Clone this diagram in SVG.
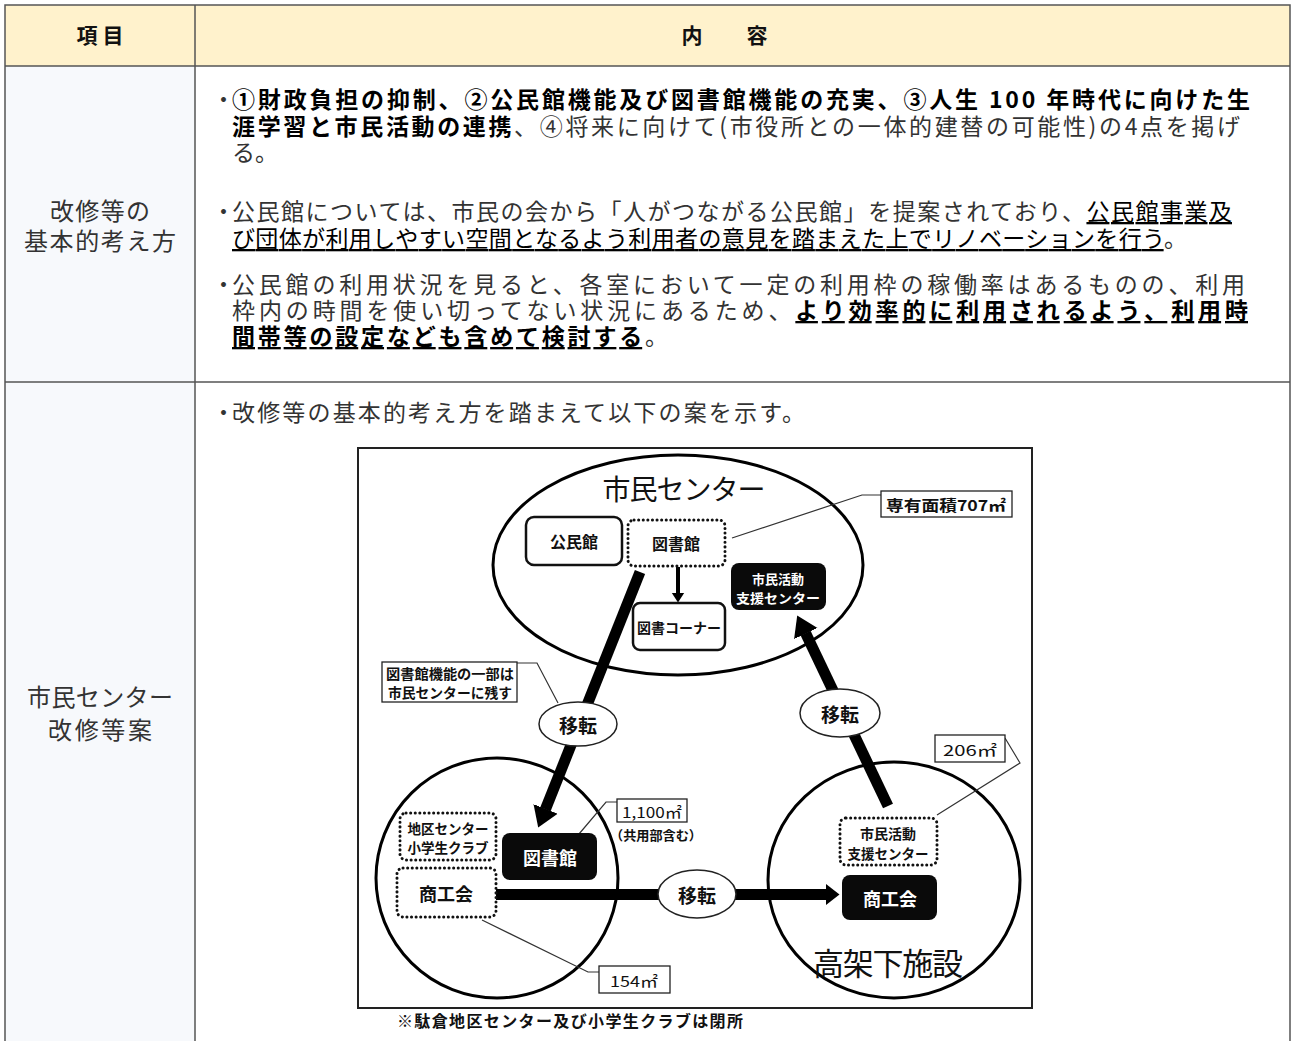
<svg xmlns="http://www.w3.org/2000/svg" width="1296" height="1041" viewBox="0 0 1296 1041">
<style>
.t{font-family:"Noto Sans CJK JP","Noto Sans",sans-serif;}
.body{font-size:23px;fill:#333;}
.b{font-weight:bold;fill:#000;}
.u{text-decoration:underline;}
.lab{font-size:24px;fill:#333;text-anchor:middle;}
.hd{font-size:21px;font-weight:bold;fill:#111;text-anchor:middle;}
.d{font-family:"Noto Sans CJK JP","Noto Sans",sans-serif;text-anchor:middle;dominant-baseline:central;fill:#111;}
.w{fill:#fff;font-weight:bold;}
.bx{fill:#fff;stroke:#222;stroke-width:1.3;}
.dot{fill:#fff;stroke:#111;stroke-width:3;stroke-dasharray:0.1 4.5;stroke-linecap:round;}
.blk{fill:#0a0a0a;stroke:none;}
.cl{fill:none;stroke:#333;stroke-width:1.2;}
.circ{fill:none;stroke:#000;stroke-width:3;}
.ev{fill:#fff;stroke:#222;stroke-width:1.5;}
.grid{stroke:#555;stroke-width:1.5;fill:none;}
</style>
<defs>
<marker id="ah" markerUnits="userSpaceOnUse" markerWidth="22" markerHeight="28" viewBox="0 -14 22 28" refX="0.5" refY="0" orient="auto"><path d="M0,-13 L20,0 L0,13 Z" fill="#000"/></marker>
<marker id="ah2" markerUnits="userSpaceOnUse" markerWidth="16" markerHeight="24" viewBox="0 -12 16 24" refX="0.5" refY="0" orient="auto"><path d="M0,-11 L14,0 L0,11 Z" fill="#000"/></marker>
<marker id="ahs" markerUnits="userSpaceOnUse" markerWidth="12" markerHeight="14" viewBox="0 -7 12 14" refX="0.5" refY="0" orient="auto"><path d="M0,-6.5 L10,0 L0,6.5 Z" fill="#000"/></marker>
</defs>
<rect width="1296" height="1041" fill="#fff"/>

<g id="table">
<rect x="5" y="5" width="1285" height="61" fill="#fff2cc"/>
<rect x="5" y="66" width="190" height="980" fill="#f7f9fc"/>
<rect x="5" y="5" width="1285" height="1041" class="grid"/>
<line x1="5" y1="66" x2="1290" y2="66" class="grid"/>
<line x1="5" y1="382" x2="1290" y2="382" class="grid"/>
<line x1="195" y1="5" x2="195" y2="1046" class="grid"/>
<text class="t hd" x="100" y="43" textLength="47" lengthAdjust="spacing">項目</text>
<text class="t hd" x="692" y="43">内</text>
<text class="t hd" x="757" y="43">容</text>
</g>

<g id="row1-label">
<text class="t lab" x="100" y="220" textLength="100" lengthAdjust="spacing">改修等の</text>
<text class="t lab" x="100" y="250" textLength="152" lengthAdjust="spacing">基本的考え方</text>
</g>

<g id="row1-content">
<text class="t body" x="212" y="108">・</text>
<text class="t body" x="232" y="108" textLength="1018" lengthAdjust="spacing"><tspan class="b">①財政負担の抑制、②公民館機能及び図書館機能の充実、③人生 100 年時代に向けた生</tspan></text>
<text class="t body" x="232" y="135" textLength="1008" lengthAdjust="spacing"><tspan class="b">涯学習と市民活動の連携</tspan>、④将来に向けて(市役所との一体的建替の可能性)の4点を掲げ</text>
<text class="t body" x="232" y="161">る。</text>

<text class="t body" x="212" y="220">・</text>
<text class="t body" x="232" y="220" textLength="1000" lengthAdjust="spacing">公民館については、市民の会から「人がつながる公民館」を提案されており、<tspan class="u" fill="#000">公民館事業及</tspan></text>
<text class="t body" x="232" y="247" textLength="955" lengthAdjust="spacing"><tspan class="u" fill="#000">び団体が利用しやすい空間となるよう利用者の意見を踏まえた上でリノベーションを行う</tspan>。</text>

<text class="t body" x="212" y="293">・</text>
<text class="t body" x="232" y="293" textLength="1013" lengthAdjust="spacing">公民館の利用状況を見ると、各室において一定の利用枠の稼働率はあるものの、利用</text>
<text class="t body" x="232" y="319" textLength="1016" lengthAdjust="spacing">枠内の時間を使い切ってない状況にあるため、<tspan class="b u">より効率的に利用されるよう、利用時</tspan></text>
<text class="t body" x="232" y="345" textLength="436" lengthAdjust="spacing"><tspan class="b u">間帯等の設定なども含めて検討する</tspan>。</text>
</g>

<g id="row2-label">
<text class="t lab" x="100" y="706" textLength="146" lengthAdjust="spacing">市民センター</text>
<text class="t lab" x="100" y="739" textLength="104" lengthAdjust="spacing">改修等案</text>
</g>

<g id="row2-content">
<text class="t body" x="212" y="421">・</text>
<text class="t body" x="232" y="421" textLength="573" lengthAdjust="spacing">改修等の基本的考え方を踏まえて以下の案を示す。</text>
</g>

<g id="diagram-frame">
<rect x="358" y="448" width="674" height="560" fill="#fff" stroke="#222" stroke-width="2"/>
</g>

<g id="areas">
<ellipse id="civic-center" cx="678" cy="565" rx="185" ry="110" class="circ"/>
<ellipse id="district-center" cx="497" cy="878" rx="121" ry="120" class="circ"/>
<ellipse id="elevated-facility" cx="894" cy="880" rx="126" ry="118" class="circ"/>
<text class="d" x="684" y="488" font-size="28" textLength="163" lengthAdjust="spacing">市民センター</text>
<text class="d" x="888" y="961" font-size="31" textLength="150" lengthAdjust="spacing">高架下施設</text>
</g>

<g id="connectors">
<path d="M640,572 L545.4,809.4" stroke="#000" stroke-width="11" fill="none" marker-end="url(#ah)"/>
<path d="M888,806 L805.6,633.1" stroke="#000" stroke-width="11" fill="none" marker-end="url(#ah)"/>
<path d="M496,894.5 L826,894.5" stroke="#000" stroke-width="11" fill="none" marker-end="url(#ah2)"/>
<path d="M678,567 L678,593" stroke="#000" stroke-width="4" fill="none" marker-end="url(#ahs)"/>
<polyline points="732,538 862,495 881,495" class="cl"/>
<polyline points="517,663 537,663 558,703" class="cl"/>
<polyline points="617,802 606,802 579,834" class="cl"/>
<polyline points="482,920 588,972 599,972" class="cl"/>
<polyline points="1005,738 1020,763 937,815" class="cl"/>
</g>

<g id="n-kominkan">
<rect x="526" y="517" width="96" height="48" rx="8" fill="#fff" stroke="#111" stroke-width="2.5"/>
<text class="d" x="574" y="541" font-size="16" font-weight="bold">公民館</text>
</g>
<g id="n-library-old">
<rect x="628" y="520" width="97" height="46" rx="6" class="dot"/>
<text class="d" x="676" y="543" font-size="16" font-weight="bold">図書館</text>
</g>
<g id="n-library-corner">
<rect x="633" y="603" width="92" height="47" rx="7" fill="#fff" stroke="#111" stroke-width="2.5"/>
<text class="d" x="679" y="627" font-size="14" font-weight="bold" textLength="84" lengthAdjust="spacingAndGlyphs">図書コーナー</text>
</g>
<g id="n-support-new">
<rect x="731" y="563" width="95" height="47" rx="8" class="blk"/>
<text class="d w" x="778" y="578" font-size="13">市民活動</text>
<text class="d w" x="778" y="597" font-size="13" textLength="84" lengthAdjust="spacingAndGlyphs">支援センター</text>
</g>
<g id="n-area707">
<rect x="881" y="491" width="131" height="26" class="bx"/>
<text class="d" x="946" y="504" font-size="15" font-weight="bold" textLength="120" lengthAdjust="spacingAndGlyphs">専有面積707㎡</text>
</g>
<g id="n-note-library">
<rect x="382" y="662" width="135" height="40" class="bx"/>
<text class="d" x="450" y="673" font-size="14" font-weight="bold" textLength="128" lengthAdjust="spacingAndGlyphs">図書館機能の一部は</text>
<text class="d" x="450" y="692" font-size="14" font-weight="bold" textLength="124" lengthAdjust="spacingAndGlyphs">市民センターに残す</text>
</g>
<g id="n-move-left">
<ellipse cx="578" cy="724" rx="39" ry="22" class="ev"/>
<text class="d" x="578" y="724" font-size="19" font-weight="bold">移転</text>
</g>
<g id="n-move-right">
<ellipse cx="840" cy="713" rx="40" ry="24" class="ev"/>
<text class="d" x="840" y="713" font-size="19" font-weight="bold">移転</text>
</g>
<g id="n-move-bottom">
<ellipse cx="697" cy="894" rx="39" ry="24" class="ev"/>
<text class="d" x="697" y="894" font-size="19" font-weight="bold">移転</text>
</g>
<g id="n-area206">
<rect x="935" y="735" width="70" height="27" class="bx"/>
<text class="d" x="970" y="749" font-size="15" textLength="54" lengthAdjust="spacingAndGlyphs">206㎡</text>
</g>
<g id="n-area1100">
<rect x="617" y="799" width="70" height="23" class="bx"/>
<text class="d" x="652" y="811" font-size="15" textLength="60" lengthAdjust="spacingAndGlyphs">1,100㎡</text>
</g>
<text class="d" x="656" y="834" font-size="13" font-weight="bold" textLength="92" lengthAdjust="spacingAndGlyphs">（共用部含む）</text>
<g id="n-district">
<rect x="400" y="813" width="96" height="47" rx="6" class="dot"/>
<text class="d" x="448" y="828" font-size="14" font-weight="bold" textLength="81" lengthAdjust="spacingAndGlyphs">地区センター</text>
<text class="d" x="448" y="847" font-size="14" font-weight="bold" textLength="81" lengthAdjust="spacingAndGlyphs">小学生クラブ</text>
</g>
<g id="n-library-new">
<rect x="502" y="833" width="95" height="47" rx="8" class="blk"/>
<text class="d w" x="550" y="857" font-size="18">図書館</text>
</g>
<g id="n-shokokai-old">
<rect x="397" y="868" width="99" height="49" rx="6" class="dot"/>
<text class="d" x="446" y="893" font-size="18" font-weight="bold">商工会</text>
</g>
<g id="n-support-old">
<rect x="840" y="818" width="97" height="47" rx="6" class="dot"/>
<text class="d" x="888" y="833" font-size="14" font-weight="bold">市民活動</text>
<text class="d" x="888" y="853" font-size="14" font-weight="bold" textLength="81" lengthAdjust="spacingAndGlyphs">支援センター</text>
</g>
<g id="n-shokokai-new">
<rect x="842" y="875" width="95" height="45" rx="8" class="blk"/>
<text class="d w" x="890" y="898" font-size="18">商工会</text>
</g>
<g id="n-area154">
<rect x="599" y="966" width="71" height="27" class="bx"/>
<text class="d" x="634" y="980" font-size="15" textLength="48" lengthAdjust="spacingAndGlyphs">154㎡</text>
</g>
<g id="footnote">
<text class="d" x="570" y="1020" font-size="16" font-weight="bold" textLength="346" lengthAdjust="spacing">※駄倉地区センター及び小学生クラブは閉所</text>
</g>
</svg>
